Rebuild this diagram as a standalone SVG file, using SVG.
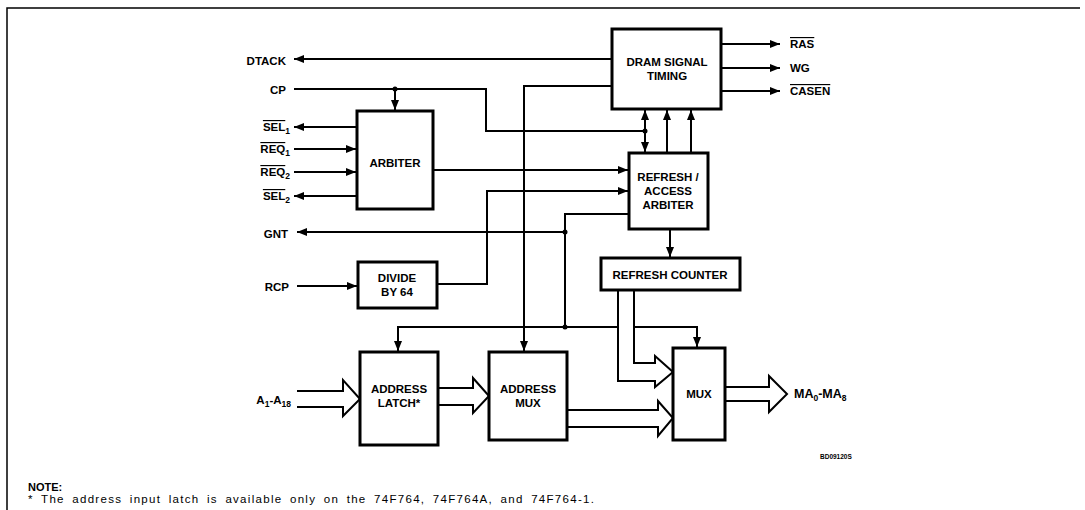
<svg xmlns="http://www.w3.org/2000/svg" width="1085" height="510" viewBox="0 0 1085 510">
<defs>
<marker id="ah" viewBox="0 0 10 8" refX="10" refY="4" markerWidth="10" markerHeight="8" markerUnits="userSpaceOnUse" orient="auto">
<path d="M0,0 L10,4 L0,8 Z" fill="#000"/>
</marker>
<style>
.box{fill:#fff;stroke:#000;stroke-width:3}
.t{font-family:"Liberation Sans",Arial,sans-serif;font-weight:bold;font-size:11.5px;fill:#000}
.c{text-anchor:middle}
.e{text-anchor:end}
.w{fill:none;stroke:#000;stroke-width:2}
.a{marker-end:url(#ah)}
.bus{fill:#fff;stroke:#000;stroke-width:2;stroke-linejoin:miter}
.ov{text-decoration:overline}
.sub{font-size:8.5px}
</style>
</defs>
<rect width="1085" height="510" fill="#fff"/>
<path d="M7,510 V8 H1080" fill="none" stroke="#000" stroke-width="1.5"/>

<g id="connectors">
<path class="w a" d="M612,59 H294"/>
<path class="w" d="M294,89 H486 V131 H645"/>
<path class="w a" d="M395,89 V110"/>
<path class="w a" d="M645,131 V110"/>
<path class="w a" d="M645,131 V152"/>
<path class="w a" d="M667,153 V110"/>
<path class="w a" d="M691,153 V110"/>
<path class="w a" d="M721,44 H780"/>
<path class="w a" d="M721,68 H780"/>
<path class="w a" d="M721,91 H780"/>
<path class="w a" d="M357,127 H294"/>
<path class="w a" d="M294,149 H356"/>
<path class="w a" d="M294,172 H356"/>
<path class="w a" d="M357,196 H294"/>
<path class="w a" d="M433,170 H628"/>
<path class="w a" d="M437,284 H487 V191 H628"/>
<path class="w a" d="M612,86 H524 V351"/>
<path class="w a" d="M297,286 H357"/>
<path class="w" d="M629,214 H565 V327"/>
<path class="w a" d="M565,232 H297"/>
<path class="w a" d="M565,327 H398 V351"/>
<path class="w a" d="M565,327 H697 V347"/>
<path class="w a" d="M670,229 V257"/>
<circle cx="395" cy="89" r="2.5"/>
<circle cx="645" cy="131" r="2.5"/>
<circle cx="565" cy="232" r="2.5"/>
<circle cx="565" cy="327" r="2.5"/>
<path class="bus" d="M297,391 H343 V380 L360,399 L343,416 V407 H297"/>
<path class="bus" d="M438,388 H473 V378 L489,396 L473,413 V405 H438"/>
<path class="bus" d="M567,410 H658 V401 L673,418 L658,436 V427 H567"/>
<path class="bus" d="M618,290 V381 H655 V387 L673,372 L655,356 V363 H634 V290"/>
<path class="bus" d="M725,387 H769 V376 L787,394 L769,412 V401 H725"/>
</g>

<g id="dram">
<rect class="box" x="612" y="29" width="109" height="80"/>
<text class="t c" x="667" y="66">DRAM SIGNAL</text>
<text class="t c" x="667" y="80">TIMING</text>
</g>
<g id="arbiter">
<rect class="box" x="357" y="111" width="76" height="98"/>
<text class="t c" x="395" y="167">ARBITER</text>
</g>
<g id="refresh-access">
<rect class="box" x="629" y="153" width="79" height="76"/>
<text class="t c" x="668" y="181">REFRESH /</text>
<text class="t c" x="668" y="195">ACCESS</text>
<text class="t c" x="668" y="209">ARBITER</text>
</g>
<g id="divide">
<rect class="box" x="358" y="262" width="79" height="46"/>
<text class="t c" x="397" y="282">DIVIDE</text>
<text class="t c" x="397" y="296">BY 64</text>
</g>
<g id="refresh-counter">
<rect class="box" x="601" y="258" width="139" height="32"/>
<text class="t c" x="670" y="279">REFRESH COUNTER</text>
</g>
<g id="address-latch">
<rect class="box" x="360" y="352" width="78" height="93"/>
<text class="t c" x="399" y="393">ADDRESS</text>
<text class="t c" x="399" y="407">LATCH*</text>
</g>
<g id="address-mux">
<rect class="box" x="489" y="352" width="78" height="88"/>
<text class="t c" x="528" y="393">ADDRESS</text>
<text class="t c" x="528" y="407">MUX</text>
</g>
<g id="mux">
<rect class="box" x="673" y="348" width="52" height="92"/>
<text class="t c" x="699" y="398">MUX</text>
</g>

<g id="labels">
<text class="t e" x="286" y="65">DTACK</text>
<text class="t e" x="286" y="94">CP</text>
<text class="t e" x="290" y="131"><tspan class="ov">SEL</tspan><tspan class="sub" dy="3">1</tspan></text>
<text class="t e" x="290" y="153"><tspan class="ov">REQ</tspan><tspan class="sub" dy="3">1</tspan></text>
<text class="t e" x="290" y="176"><tspan class="ov">REQ</tspan><tspan class="sub" dy="3">2</tspan></text>
<text class="t e" x="290" y="200"><tspan class="ov">SEL</tspan><tspan class="sub" dy="3">2</tspan></text>
<text class="t e" x="288" y="238">GNT</text>
<text class="t e" x="289" y="291">RCP</text>
<text class="t e" x="291" y="404">A<tspan class="sub" dy="3">1</tspan><tspan dy="-3">-A</tspan><tspan class="sub" dy="3">18</tspan></text>
<text class="t" x="790" y="48"><tspan class="ov">RAS</tspan></text>
<text class="t" x="790" y="72">WG</text>
<text class="t" x="790" y="95"><tspan class="ov">CASEN</tspan></text>
<text class="t" x="794" y="398" style="font-size:12.5px">MA<tspan class="sub" dy="3">0</tspan><tspan dy="-3">-MA</tspan><tspan class="sub" dy="3">8</tspan></text>
<text class="t" x="820" y="459" style="font-size:6.5px">BD09120S</text>
<text class="t" x="28" y="491" style="font-size:11px">NOTE:</text>
<text x="28" y="503" textLength="566" lengthAdjust="spacing" style="font-family:'Liberation Sans',Arial,sans-serif;font-size:11.5px;word-spacing:3px">* The address input latch is available only on the 74F764, 74F764A, and 74F764-1.</text>
</g>
</svg>
